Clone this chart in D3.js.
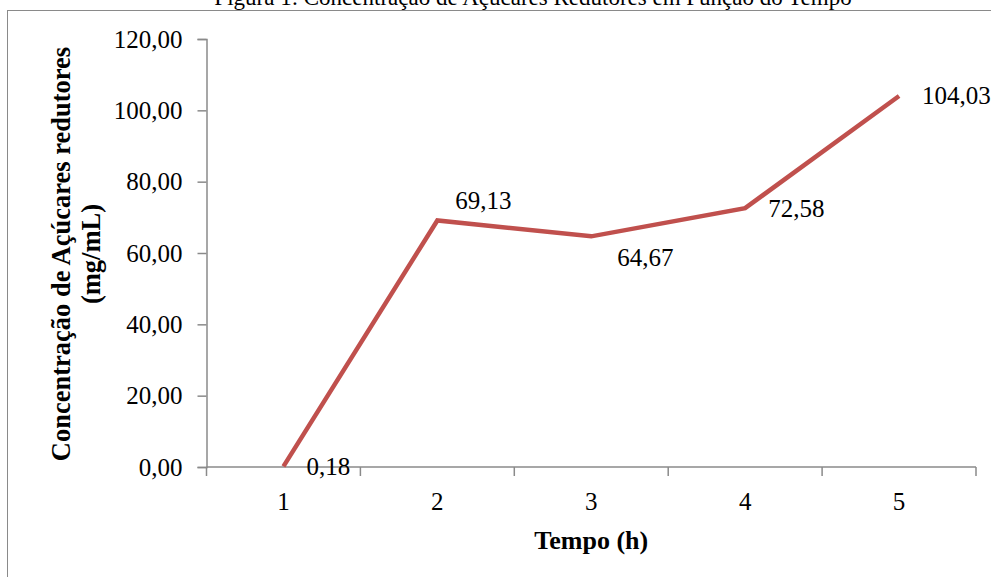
<!DOCTYPE html>
<html>
<head>
<meta charset="utf-8">
<script src="https://cdn.jsdelivr.net/npm/d3@7/dist/d3.min.js"></script>
<style>
  html, body { margin: 0; padding: 0; background: #fff; }
  svg { display: block; font-family: "Liberation Serif", "Times New Roman", serif; }
</style>
</head>
<body>
<svg id="chart" width="991" height="577"></svg>
<script>
// Reducing-sugar concentration over time
const categories = ["1", "2", "3", "4", "5"];
const values = [0.18, 69.13, 64.67, 72.58, 104.03];
const labelPlacement = ["right", "above", "below", "right", "right"];
const yTicks = [0, 20, 40, 60, 80, 100, 120];

const titleText = "Figura 1: Concentração de Açúcares Redutores em Função do Tempo";
const xTitle = "Tempo (h)";
const yTitleLines = ["Concentração de Açúcares redutores", "(mg/mL)"];

const fmt = d => d.toFixed(2).replace(".", ",");

const svg = d3.select("#chart");
const axisColor = "#8a8a8a";
const lineColor = "#c0504d";

// plot area
const plot = { left: 206.5, right: 976, top: 39, bottom: 467 };

const x = d3.scaleBand().domain(categories).range([plot.left, plot.right]).padding(0);
const y = d3.scaleLinear().domain([0, 120]).range([plot.bottom, plot.top]);

// outer frame of the chart area
svg.append("rect")
  .attr("x", 7.5).attr("y", 10.5)
  .attr("width", 1100).attr("height", 700)
  .attr("fill", "none").attr("stroke", axisColor).attr("stroke-width", 1);

// figure caption above the frame
svg.append("text")
  .attr("x", 533).attr("y", 5)
  .attr("text-anchor", "middle")
  .attr("font-size", 23)
  .attr("fill", "#000")
  .text(titleText);

// y axis
const yAxis = svg.append("g")
  .attr("transform", `translate(${plot.left},0)`)
  .call(d3.axisLeft(y).tickValues(yTicks).tickFormat(fmt).tickSize(9).tickPadding(15));
yAxis.select(".domain").attr("stroke", axisColor).attr("stroke-width", 1.5);
yAxis.selectAll(".tick line").attr("stroke", axisColor).attr("stroke-width", 1.5);
yAxis.selectAll(".tick text")
  .attr("font-family", "Liberation Serif, Times New Roman, serif")
  .attr("font-size", 25).attr("fill", "#000");

// x axis: labels at band centres, tick marks at band boundaries
const xAxis = svg.append("g")
  .attr("transform", `translate(0,${plot.bottom})`)
  .call(d3.axisBottom(x).tickSize(0).tickPadding(25));
xAxis.select(".domain").remove();
xAxis.selectAll(".tick text")
  .attr("font-family", "Liberation Serif, Times New Roman, serif")
  .attr("font-size", 25).attr("fill", "#000");
xAxis.append("line")
  .attr("x1", plot.left).attr("x2", plot.right)
  .attr("stroke", axisColor).attr("stroke-width", 1.5);
const boundaries = categories.map(c => x(c)).concat([x.range()[1]]);
xAxis.selectAll("line.bound")
  .data(boundaries)
  .enter().append("line")
  .attr("class", "bound")
  .attr("x1", d => d).attr("x2", d => d)
  .attr("y1", 0).attr("y2", 9)
  .attr("stroke", axisColor).attr("stroke-width", 1.5);

// axis titles
svg.append("text")
  .attr("x", (plot.left + plot.right) / 2).attr("y", 549)
  .attr("text-anchor", "middle")
  .attr("font-size", 26).attr("font-weight", "bold")
  .text(xTitle);

const yTitle = svg.append("text")
  .attr("transform", "translate(0,254) rotate(-90)")
  .attr("text-anchor", "middle")
  .attr("font-size", 26.5).attr("font-weight", "bold");
yTitle.selectAll("tspan")
  .data(yTitleLines)
  .enter().append("tspan")
  .attr("x", 0)
  .attr("y", (d, i) => 70 + i * 30)
  .text(d => d);

// data line
const cx = c => x(c) + x.bandwidth() / 2;
const line = d3.line()
  .x((d, i) => cx(categories[i]))
  .y(d => y(d));
svg.append("path")
  .datum(values)
  .attr("d", line)
  .attr("fill", "none")
  .attr("stroke", lineColor)
  .attr("stroke-width", 4.5)
  .attr("stroke-linejoin", "miter");

// data labels
const offsets = {
  right: { dx: 23, dy: 0 },
  above: { dx: 18, dy: -20 },
  below: { dx: 26, dy: 21 }
};
svg.selectAll("text.dlabel")
  .data(values)
  .enter().append("text")
  .attr("class", "dlabel")
  .attr("x", (d, i) => cx(categories[i]) + offsets[labelPlacement[i]].dx)
  .attr("y", (d, i) => y(d) + offsets[labelPlacement[i]].dy)
  .attr("dominant-baseline", "central")
  .attr("font-size", 25)
  .attr("fill", "#000")
  .text(fmt);
</script>
</body>
</html>
